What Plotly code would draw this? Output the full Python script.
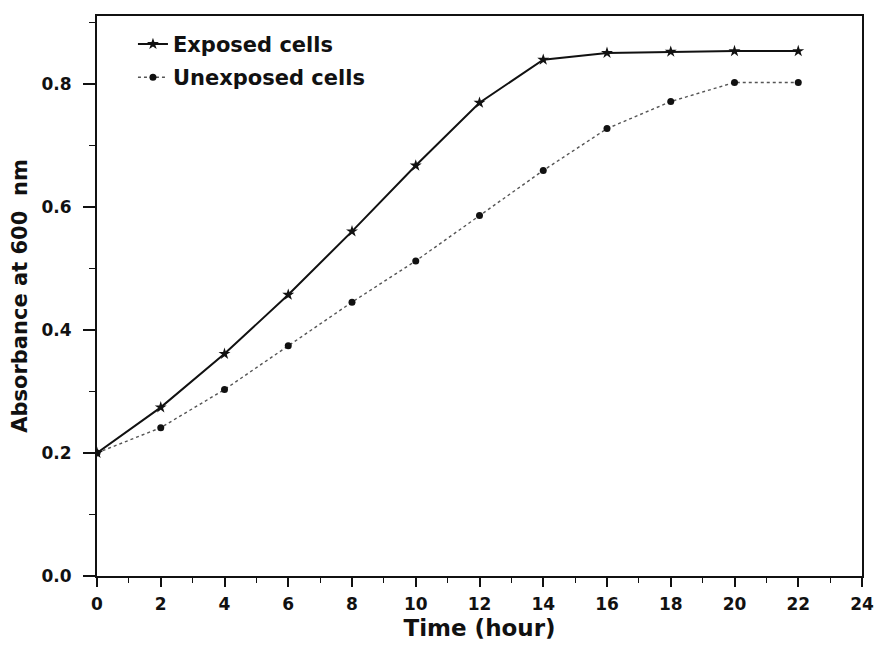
import plotly.graph_objects as go

time_h = [0, 2, 4, 6, 8, 10, 12, 14, 16, 18, 20, 22]
exposed = [0.200, 0.274, 0.361, 0.457, 0.560, 0.667, 0.769, 0.839, 0.850, 0.852, 0.853, 0.853]
unexposed = [0.200, 0.241, 0.303, 0.374, 0.445, 0.512, 0.586, 0.659, 0.727, 0.771, 0.802, 0.802]
x_ticks = list(range(0, 25, 2))
y_ticks = [0.0, 0.2, 0.4, 0.6, 0.8]

fig = go.Figure()
fig.add_trace(go.Scatter(
    x=time_h, y=exposed, mode="lines+markers", name="Exposed cells",
    legendgroup="a",
    line=dict(color="#111111", width=2),
    marker=dict(symbol="star", size=9, color="#111111"),
))
fig.add_trace(go.Scatter(
    x=time_h, y=unexposed, mode="lines+markers", name="Unexposed cells",
    legendgroup="b",
    line=dict(color="#555555", width=1.4, dash="dot"),
    marker=dict(symbol="circle", size=7, color="#111111"),
))

font_family = "DejaVu Sans, sans-serif"
fig.update_layout(
    width=874, height=637,
    margin=dict(l=89, r=20, t=6, b=69),
    paper_bgcolor="white", plot_bgcolor="white",
    font=dict(family=font_family, color="#111111"),
    showlegend=True,
    legend=dict(
        x=0.047, y=0.986, xanchor="left", yanchor="top",
        bgcolor="rgba(0,0,0,0)", borderwidth=0,
        font=dict(size=21, family=font_family, weight="bold"),
        tracegroupgap=3,
    ),
    xaxis=dict(
        range=[0, 24], tickvals=x_ticks, ticktext=[str(v) for v in x_ticks],
        ticks="outside", ticklen=9, tickwidth=1.5, tickcolor="#111111",
        minor=dict(dtick=1, ticks="outside", ticklen=5, tickcolor="#111111", tickwidth=1.2),
        showline=True, linecolor="#111111", linewidth=2, mirror=True,
        showgrid=False, zeroline=False, ticklabelstandoff=3,
        tickfont=dict(size=17, family=font_family, weight="bold"),
        title=dict(text="Time (hour)", font=dict(size=23, family=font_family, weight="bold"), standoff=6),
    ),
    yaxis=dict(
        range=[0, 0.91], tickvals=y_ticks, ticktext=[f"{v:.1f}" for v in y_ticks],
        ticks="outside", ticklen=12, tickwidth=1.5, tickcolor="#111111",
        minor=dict(dtick=0.1, ticks="outside", ticklen=6, tickcolor="#111111", tickwidth=1.2),
        showline=True, linecolor="#111111", linewidth=2, mirror=True,
        showgrid=False, zeroline=False, ticklabelstandoff=8,
        tickfont=dict(size=17, family=font_family, weight="bold"),
        title=dict(text="Absorbance at 600  nm", font=dict(size=21, family=font_family, weight="bold"), standoff=8),
    ),
)

fig.write_html("out.html")
